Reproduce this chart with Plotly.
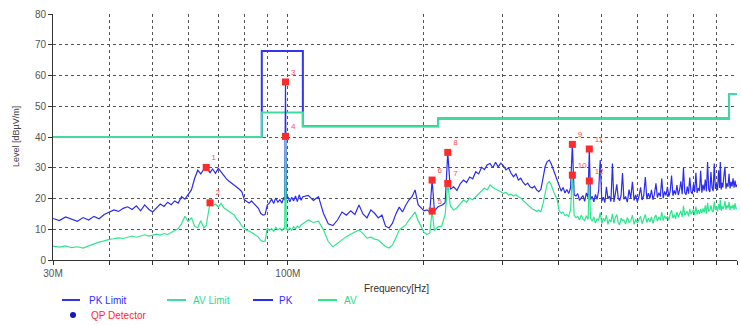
import math
import plotly.graph_objects as go

# ---------------- data (MHz / dBuV/m) ----------------
freq_a = [30, 31, 32, 33, 34, 35, 36, 37, 38, 39,
          40, 41, 42, 43, 44, 45, 46, 47, 48, 49,
          50, 51, 52, 53, 54, 55, 56, 57, 58, 59,
          60, 61, 62, 63, 64, 65, 65.8, 67.1, 68, 69,
          70, 71, 72, 73, 74, 75, 76, 77, 78, 79,
          80, 81, 82, 83, 84, 85, 86, 87, 88]
pk_a = [13.5, 12.8, 14.0, 13.2, 12.6, 13.8, 13.0, 14.2, 13.4, 14.8,
        15.6, 16.3, 15.8, 16.8, 17.3, 16.4, 17.6, 16.0, 17.9, 16.5,
        15.6, 17.0, 18.2, 17.4, 18.8, 18.0, 19.2, 18.5, 20.6, 19.8,
        21.5, 22.8, 26.5, 29.2, 28.0, 29.5, 30.1, 28.4, 29.6, 28.2,
        29.8, 28.6, 27.2, 26.4, 25.6, 25.0, 24.4, 23.6, 23.0, 22.2,
        19.6, 19.0, 18.5, 19.2, 18.4, 17.4, 16.8, 15.2, 14.6]
av_a = [4.5, 4.2, 4.6, 4.0, 4.3, 3.9, 4.6, 5.3, 5.8, 6.2,
        6.7, 6.9, 7.2, 7.0, 7.5, 7.8, 7.4, 7.9, 8.2, 7.8,
        8.0, 8.4, 8.1, 8.6, 8.3, 9.0, 9.6, 10.2, 11.8, 14.2,
        12.5, 13.8, 11.0, 10.5, 12.8, 10.4, 11.2, 18.6, 17.6, 18.2,
        17.2, 18.4, 17.0, 16.5, 15.8, 15.2, 14.6, 13.2, 12.4, 11.0,
        10.2, 9.6, 9.4, 9.0, 8.6, 8.0, 7.4, 6.4, 6.0]

freq_b = [89, 90, 91, 92, 93, 94, 95, 96, 97, 98, 98.4, 98.8, 99.2,
          100, 101, 102, 103, 104, 105, 106, 107, 108]
pk_b = [14.8, 17.9, 18.6, 19.8, 18.4, 20.2, 18.8, 19.6, 18.5, 20.4, 19.5, 57.9, 19.8,
        20.6, 18.9, 20.4, 19.2, 20.8, 19.0, 21.2, 19.4, 20.6]
av_b = [6.2, 10.4, 9.6, 10.2, 9.4, 10.6, 9.8, 10.3, 9.5, 10.4, 10.0, 40.2, 10.2,
        9.6, 10.4, 9.7, 10.8, 10.2, 11.0, 10.5, 11.4, 11.8]

freq_c = [111, 114, 117, 120, 123, 126, 129, 132, 135, 138,
          141, 144, 147, 150, 153, 156, 159, 162, 165, 168,
          171, 174, 177, 180, 183, 186, 189, 192, 195, 198,
          201, 204, 207, 209.5, 212, 216]
pk_c = [21.0, 19.4, 20.6, 15.2, 11.8, 11.2, 13.0, 15.6, 14.6, 16.0,
        14.8, 17.9, 15.0, 13.7, 16.3, 15.2, 13.7, 14.6, 11.0, 10.4,
        12.0, 15.0, 17.2, 15.6, 17.8, 19.5, 20.6, 22.8, 18.0, 16.9,
        16.0, 16.3, 15.6, 26.0, 16.0, 17.3]
av_c = [13.0, 12.2, 12.6, 9.8, 6.0, 4.3, 5.5, 6.4, 7.6, 8.4,
        9.2, 9.8, 8.6, 7.1, 7.4, 6.8, 6.5, 5.4, 4.4, 3.9,
        4.9, 7.2, 9.8, 10.6, 11.4, 13.0, 14.4, 15.6, 12.8, 10.7,
        9.0, 8.3, 8.8, 15.9, 9.6, 10.8]

freq_d = [220, 224, 227, 230, 234, 238, 242, 246, 250, 254,
          258, 262, 266, 270, 274, 278, 282, 286, 290, 294,
          298, 302, 306, 310, 314, 318, 322, 326, 330, 334,
          338, 342, 346, 350, 354, 358, 362, 366, 370, 374,
          378, 382, 386, 390, 394, 398]
pk_d = [17.8, 18.6, 35.0, 23.0, 23.8, 22.6, 24.8, 26.0, 25.2, 27.0,
        26.4, 28.7, 28.0, 30.2, 29.4, 31.0, 31.4, 30.0, 31.8, 30.3,
        31.5, 30.6, 29.3, 30.0, 28.2, 27.1, 28.0, 26.0, 26.6, 25.2,
        24.4, 25.0, 23.8, 23.4, 24.0, 22.8, 22.2, 23.0, 27.4, 30.4,
        32.0, 32.5, 31.2, 29.3, 27.8, 26.2]
av_d = [11.0, 14.8, 24.9, 17.6, 16.3, 17.0, 18.2, 19.5, 18.8, 20.1,
        19.6, 20.6, 21.8, 22.6, 23.4, 22.8, 24.4, 23.6, 23.2, 22.8,
        22.2, 21.6, 22.0, 21.1, 21.4, 20.8, 21.2, 20.6, 20.2, 19.4,
        18.6, 17.9, 17.2, 16.6, 16.3, 15.8, 16.2, 15.7, 18.4, 21.6,
        24.8, 25.5, 24.4, 22.4, 21.0, 19.5]

freq_e = [402, 406, 410, 414, 418, 422, 426, 430, 434, 438,
          442, 446, 450, 454, 458, 462, 466, 469, 472, 476,
          480, 484, 488, 492, 496, 500, 504, 508, 512, 516,
          520, 524, 528, 532, 536, 540, 544, 548, 552, 556,
          560, 565, 570, 575, 580, 585, 590, 595, 600, 605,
          610, 615, 620, 625, 630, 635, 640, 645, 650, 655,
          660, 665, 670, 675, 680, 685, 690, 695, 700, 705,
          710, 715, 720, 725, 730, 735, 740, 745, 750, 755,
          760, 765, 770, 775, 780, 785, 790, 795, 800, 805,
          810, 815, 820, 825, 830, 835, 840, 845, 850, 855,
          860, 865, 870, 875, 880, 885, 890, 895, 900, 905,
          910, 915, 918, 922, 926, 930, 935, 940, 945, 950,
          955, 960, 965, 970, 975, 980, 985, 990, 995, 1000]
pk_e = [23.8, 22.4, 23.6, 21.8, 22.9, 21.6, 23.4, 37.6, 21.2, 20.8,
        21.6, 19.4, 20.2, 20.9, 19.1, 21.8, 20.3, 36.1, 19.6, 20.7,
        18.9, 21.3, 19.7, 22.6, 32.5, 19.2, 20.4, 18.7, 23.8, 19.9,
        20.8, 19.0, 31.4, 18.9, 21.5, 24.6, 20.1, 19.3, 21.0, 28.3,
        19.8, 20.6, 18.8, 22.9, 20.1, 25.4, 19.4, 21.2, 18.9, 20.7,
        23.6, 19.5, 21.0, 27.0, 19.8, 21.7, 20.0, 22.8, 19.6, 21.4,
        24.9, 20.3, 21.9, 20.6, 26.5, 20.1, 22.3, 21.0, 23.8, 20.6,
        22.4, 27.5, 20.9, 22.6, 21.3, 24.4, 21.1, 22.8, 25.6, 21.4,
        30.0, 22.0, 21.2, 23.9, 21.6, 26.8, 22.2, 21.5, 24.6, 22.1,
        28.4, 21.8, 23.4, 22.4, 29.0, 21.9, 24.5, 22.6, 26.2, 22.3,
        31.9, 23.0, 22.1, 28.6, 23.5, 22.4, 31.4, 23.1, 24.8, 22.7,
        29.2, 23.4, 31.9, 22.9, 25.1, 23.6, 27.4, 30.3, 23.2, 24.9,
        23.8, 28.0, 23.3, 25.4, 23.9, 26.6, 23.5, 25.8, 23.7, 24.5]
av_e = [16.0, 15.2, 15.6, 14.4, 14.8, 14.0, 16.4, 27.6, 14.6, 13.8,
        14.2, 13.0, 14.6, 13.4, 12.8, 14.4, 13.2, 25.7, 13.6, 12.6,
        14.0, 12.0, 13.4, 12.8, 15.4, 11.8, 13.6, 12.6, 14.6, 11.6,
        13.2, 12.4, 15.0, 11.9, 13.8, 14.8, 12.2, 11.4, 13.6, 12.8,
        13.0, 11.7, 13.8, 12.2, 12.6, 14.6, 11.6, 13.2, 12.0, 13.0,
        14.2, 11.8, 13.4, 14.8, 12.2, 13.6, 12.4, 14.0, 11.9, 13.8,
        14.6, 12.6, 14.0, 12.9, 15.6, 12.8, 14.4, 13.4, 14.2, 12.9,
        15.0, 16.2, 13.6, 14.8, 13.4, 15.6, 13.9, 15.0, 16.0, 14.0,
        17.6, 14.6, 15.2, 15.8, 14.2, 16.6, 14.8, 15.4, 16.4, 14.6,
        17.4, 14.8, 16.2, 15.0, 16.6, 15.2, 16.8, 15.4, 17.8, 15.0,
        18.6, 15.8, 16.2, 17.8, 16.0, 15.6, 19.0, 16.2, 17.4, 15.8,
        18.2, 16.4, 19.6, 16.0, 17.6, 16.6, 17.2, 19.2, 16.4, 17.8,
        16.8, 18.8, 16.2, 17.6, 16.8, 18.0, 16.4, 18.4, 16.6, 17.0]

freq = freq_a + freq_b + freq_c + freq_d + freq_e
pk = pk_a + pk_b + pk_c + pk_d + pk_e
av = av_a + av_b + av_c + av_d + av_e
n = min(len(freq), len(pk), len(av))
freq, pk, av = freq[:n], pk[:n], av[:n]

# limits
limit_freq = [30, 87.5, 87.5, 108, 108, 216, 216, 960, 960, 1000]
pk_limit = [40, 40, 68, 68, 43.5, 43.5, 46, 46, 54, 54]
av_limit = [40, 40, 48, 48, 43.5, 43.5, 46, 46, 54, 54]

# QP detector markers
mk_freq = [65.8, 67.1, 98.8, 98.8, 209.5, 209.5, 227, 227, 430, 430, 469, 469]
mk_level = [30.1, 18.6, 57.9, 40.2, 15.9, 26.0, 24.9, 35.0, 37.6, 27.6, 36.1, 25.7]
mk_label = ["1", "2", "3", "4", "5", "6", "7", "8", "9", "10", "11", "12"]

# axis ticks
x_tickvals = [30, 40, 50, 60, 70, 80, 90, 100, 200, 300, 400, 500, 600, 700, 800, 900, 1000]
x_ticktext = ["30M", "", "", "", "", "", "", "100M", "", "", "", "", "", "", "", "", "1000M"]
y_tickvals = [0, 10, 20, 30, 40, 50, 60, 70, 80]

# ---------------- styling ----------------
C_PKLIM = "#3434ee"
C_AVLIM = "#3fdca0"
C_PK = "#2c2cf0"
C_AV = "#2ee68e"
C_RED = "#ff2a2a"
FONT = "Liberation Sans, Arial, sans-serif"

fig = go.Figure()
fig.add_trace(go.Scatter(x=limit_freq, y=pk_limit, mode="lines", name="PK Limit",
                         line=dict(color=C_PKLIM, width=2), showlegend=False))
fig.add_trace(go.Scatter(x=limit_freq, y=av_limit, mode="lines", name="AV Limit",
                         line=dict(color=C_AVLIM, width=2), showlegend=False))
fig.add_trace(go.Scatter(x=freq, y=pk, mode="lines", name="PK",
                         line=dict(color=C_PK, width=1.2), showlegend=False))
fig.add_trace(go.Scatter(x=freq, y=av, mode="lines", name="AV",
                         line=dict(color=C_AV, width=1.2), showlegend=False))
fig.add_trace(go.Scatter(x=mk_freq, y=mk_level, mode="markers+text", name="QP Detector",
                         text=mk_label, textposition="top right",
                         textfont=dict(size=8, color="#ff5050", family=FONT),
                         marker=dict(symbol="square", size=7, color=C_RED),
                         showlegend=False, cliponaxis=False))

# plot area in pixels: x 53..737, y 14..260
L, R, T, B = 53, 4, 14, 65
W, H = 741, 325
PW, PH = W - L - R, H - T - B


def px(x):
    return (x - L) / PW


def py(y):
    return (H - B - y) / PH


shapes = []
annotations = []
legend_items = [
    ("PK Limit", C_PKLIM, "#3030ff", 62, 80, 87),
    ("AV Limit", C_AVLIM, "#30d890", 167, 186, 191),
    ("PK", C_PK, "#3030ff", 253, 273, 277),
    ("AV", C_AV, "#30d890", 318, 337, 342),
]
row1 = 300
for name, lc, tc, x0, x1, tx in legend_items:
    shapes.append(dict(type="line", xref="paper", yref="paper",
                       x0=px(x0), x1=px(x1), y0=py(row1), y1=py(row1),
                       line=dict(color=lc, width=2)))
    annotations.append(dict(text=name, xref="paper", yref="paper", x=px(tx), y=py(row1),
                            xanchor="left", yanchor="middle", showarrow=False,
                            font=dict(size=10, color=tc, family=FONT)))
row2 = 315
shapes.append(dict(type="circle", xref="paper", yref="paper",
                   x0=px(70), x1=px(76), y0=py(row2 + 3), y1=py(row2 - 3),
                   fillcolor="#1414c8", line=dict(color="#1414c8", width=0)))
annotations.append(dict(text="QP Detector", xref="paper", yref="paper", x=px(89), y=py(row2),
                        xanchor="left", yanchor="middle", showarrow=False,
                        font=dict(size=10, color=C_RED, family=FONT)))
annotations.append(dict(text="Frequency[Hz]", xref="paper", yref="paper", x=px(396), y=py(288),
                        xanchor="center", yanchor="middle", showarrow=False,
                        font=dict(size=10, color="#333333", family=FONT)))
annotations.append(dict(text="Level [dBµV/m]", xref="paper", yref="paper", x=px(16), y=py(137),
                        xanchor="center", yanchor="middle", showarrow=False, textangle=-90,
                        font=dict(size=9, color="#444444", family=FONT)))

fig.update_layout(
    template="none",
    width=W, height=H,
    margin=dict(l=L, r=R, t=T, b=B, pad=0),
    paper_bgcolor="white", plot_bgcolor="white",
    showlegend=False,
    shapes=shapes, annotations=annotations,
    xaxis=dict(type="log", range=[math.log10(30), 3], tickvals=x_tickvals, ticktext=x_ticktext,
               ticks="outside", ticklen=4, tickcolor="#333333", tickwidth=1,
               showline=True, linecolor="#333333", linewidth=1, mirror=False,
               showgrid=True, gridcolor="#555555", griddash="dot", gridwidth=1,
               zeroline=False, automargin=False,
               tickfont=dict(size=10, color="#555555", family=FONT)),
    yaxis=dict(range=[0, 80], tickvals=y_tickvals,
               ticks="outside", ticklen=4, tickcolor="#333333", tickwidth=1,
               showline=True, linecolor="#333333", linewidth=1,
               showgrid=True, gridcolor="#555555", griddash="dot", gridwidth=1,
               zeroline=False, automargin=False,
               tickfont=dict(size=10, color="#555555", family=FONT)),
)

fig.write_html("out.html")
